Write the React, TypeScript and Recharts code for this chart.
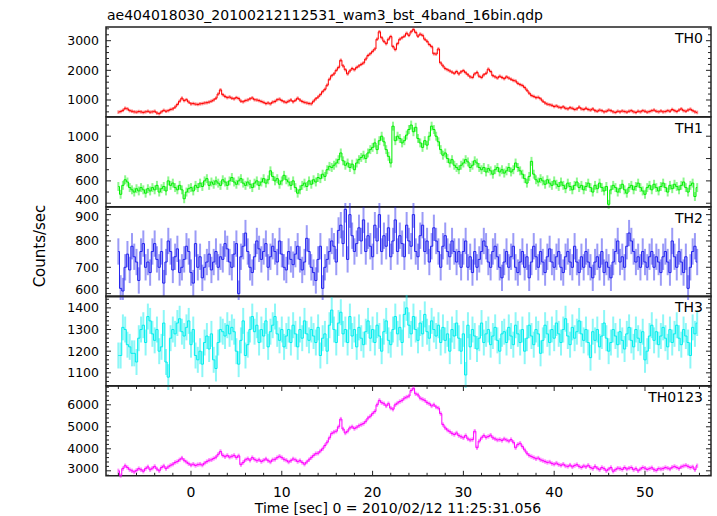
import { ComposedChart, Line, XAxis, YAxis, ErrorBar, ReferenceArea } from 'recharts'

const TITLE = 'ae404018030_20100212112531_wam3_bst_4band_16bin.qdp'
const X_LABEL = 'Time [sec] 0 = 2010/02/12 11:25:31.056'
const Y_LABEL = 'Counts/sec'

// 16 x 1/64 s bins
const T_START = -8
const BIN = 0.25

const th0 = [
  590, 610, 650, 720, 700, 640, 620, 600, 590, 610, 600, 580, 600, 620, 590, 600,
  620, 560, 540, 600, 650, 620, 640, 680, 700, 760, 850, 960, 1060, 980, 1010, 930,
  870, 880, 860, 850, 870, 880, 900, 910, 930, 960, 1000, 1060, 1200, 1340, 1180, 1120,
  1080, 1100, 1060, 1040, 1080, 1050, 960, 940, 980, 1000, 1040, 1070, 1010, 1000, 980, 950,
  920, 880, 900, 870, 930, 950, 1010, 1030, 980, 940, 920, 960, 1000, 940, 990, 1060,
  1000, 950, 920, 900, 880, 870, 960, 1040, 1100, 1180, 1280, 1360, 1500, 1700, 1820, 1880,
  2000, 2100, 2340, 2150, 2020, 1880, 1980, 2060, 2020, 2100, 2150, 2200, 2250, 2380, 2500, 2560,
  2640, 2720, 3050, 3300, 3100, 2980, 2900, 3050, 3140, 2800, 2700, 2900, 3050, 3100, 3150, 3250,
  3180, 3300, 3380, 3280, 3150, 3220, 3180, 3050, 2980, 2870, 2800, 2560, 2550, 2720, 2250, 2150,
  2060, 2020, 1980, 1940, 1900, 1960, 1880, 1950, 1990, 1920, 1850, 1780, 1760, 1880, 1930, 1800,
  1760, 1850, 1900, 2040, 1960, 1820, 1780, 1740, 1800, 1760, 1720, 1780, 1740, 1700, 1660, 1640,
  1560, 1520, 1490, 1420, 1330, 1230, 1150, 1120, 1080, 1090, 1040, 960, 900, 860, 840, 820,
  780, 800, 760, 740, 770, 720, 700, 740, 720, 680, 700, 760, 700, 680, 720, 680,
  660, 700, 640, 620, 660, 640, 600, 620, 660, 640, 600, 580, 620, 600, 630, 610,
  590, 620, 640, 600, 580, 620, 600, 640, 620, 590, 610, 640, 660, 620, 600, 630,
  600, 610, 640, 620, 680, 640, 610, 660, 700, 640, 620, 660, 690, 640, 600, 580,
]

const th1 = [
  550, 480, 560, 610, 590, 540, 520, 500, 530, 510, 540, 520, 490, 530, 510, 540,
  520, 560, 500, 530, 550, 510, 600, 560, 580, 540, 520, 560, 520, 440, 500, 530,
  540, 510, 560, 540, 580, 550, 600, 620, 560, 590, 570, 600, 580, 560, 610, 590,
  560, 600, 630, 590, 570, 600, 620, 580, 560, 590, 570, 540, 580, 600, 560, 590,
  620, 580, 610, 690, 640, 600, 620, 570, 600, 650, 610, 590, 560, 600, 540, 490,
  520, 560, 580, 550, 600, 570, 610, 590, 630, 620, 660, 640, 700, 730, 720, 740,
  760, 790, 850, 780, 740, 760, 720, 750, 700, 760, 790, 810, 830, 800, 850, 880,
  900, 940, 880, 960, 1000, 950, 880, 820, 760, 1090, 960, 1000, 980, 940, 960, 1010,
  1060, 1100, 1040, 1080, 980, 940, 900, 960, 920, 1000, 1090, 1060, 1000, 950, 880, 830,
  850, 800, 760, 790, 740, 720, 700, 740, 760, 790, 770, 720, 740, 780, 760, 720,
  700, 720, 680, 710, 690, 660, 700, 720, 680, 700, 670, 690, 720, 680, 700, 760,
  720, 690, 660, 620, 580, 640, 775, 660, 610, 590, 620, 600, 570, 610, 580, 560,
  600, 570, 550, 590, 560, 530, 580, 550, 520, 560, 590, 540, 560, 520, 550, 580,
  540, 500, 560, 530, 580, 540, 510, 550, 390, 520, 560, 540, 500, 530, 570, 520,
  490, 540, 560, 520, 550, 580, 540, 510, 480, 540, 560, 520, 570, 540, 510, 550,
  580, 540, 500, 560, 530, 570, 550, 520, 560, 590, 540, 500, 560, 580, 460, 540,
]

const th2 = [
  760, 620, 610, 700, 750, 690, 780, 740, 720, 650, 760, 790, 700, 720, 680, 760,
  790, 730, 700, 760, 640, 720, 800, 760, 690, 740, 770, 680, 700, 730, 780, 760,
  680, 640, 790, 700, 740, 660, 700, 720, 750, 690, 720, 760, 700, 740, 730, 790,
  770, 720, 700, 750, 790, 600, 740, 780, 830, 760, 700, 680, 740, 800, 770, 730,
  760, 790, 700, 740, 780, 760, 720, 800, 750, 700, 690, 760, 730, 710, 750, 780,
  730, 690, 720, 810, 760, 700, 680, 650, 730, 780, 620, 700, 730, 760, 800, 780,
  720, 840, 860, 790, 920, 730, 900, 820, 760, 790, 850, 800, 880, 760, 820, 780,
  740, 860, 800, 900, 760, 820, 780, 850, 740, 800, 880, 760, 820, 790, 740, 860,
  800, 780, 900, 760, 740, 820, 860, 760, 800, 720, 780, 850, 800, 760, 700, 780,
  820, 760, 740, 800, 760, 720, 760, 700, 760, 800, 700, 740, 680, 760, 700, 730,
  760, 800, 780, 720, 700, 760, 780, 740, 700, 660, 720, 760, 700, 740, 780, 700,
  680, 720, 760, 700, 740, 660, 720, 780, 740, 700, 760, 720, 680, 740, 770, 720,
  700, 740, 760, 700, 680, 740, 760, 720, 700, 780, 720, 680, 740, 700, 760, 720,
  700, 660, 720, 740, 700, 760, 680, 720, 700, 660, 720, 760, 800, 720, 740, 700,
  780, 830, 800, 760, 720, 740, 700, 760, 720, 700, 740, 760, 700, 740, 720, 680,
  740, 760, 720, 680, 800, 740, 700, 760, 720, 680, 740, 620, 700, 760, 780, 720,
]

const th3 = [
  1180, 1180, 1310, 1300, 1230, 1220, 1190, 1190, 1150, 1260, 1300, 1320, 1240, 1360, 1340, 1280,
  1250, 1300, 1200, 1220, 1330, 1150, 1080, 1260, 1300, 1280, 1330, 1350, 1290, 1270, 1310, 1340,
  1230, 1300, 1180, 1160, 1200, 1140, 1240, 1270, 1210, 1280, 1160, 1120, 1240, 1300, 1290, 1270,
  1320, 1280, 1310, 1290, 1200, 1140, 1250, 1340, 1180, 1230, 1300, 1360, 1290, 1320, 1240, 1300,
  1270, 1340, 1220, 1290, 1320, 1360, 1280, 1250, 1300, 1220, 1270, 1300, 1240, 1320, 1280, 1220,
  1300, 1260, 1340, 1280, 1250, 1300, 1270, 1240, 1310, 1180, 1260, 1280, 1200, 1320, 1390, 1300,
  1240, 1330, 1380, 1280, 1300, 1240, 1360, 1270, 1300, 1220, 1310, 1260, 1230, 1290, 1340, 1260,
  1300, 1240, 1320, 1270, 1200, 1290, 1340, 1250, 1230, 1300, 1360, 1280, 1310, 1240, 1370, 1400,
  1320, 1280, 1360, 1300, 1250, 1330, 1280, 1370, 1290, 1260, 1340, 1300, 1270, 1320, 1240, 1310,
  1250, 1280, 1200, 1300, 1270, 1330, 1260, 1200, 1280, 1090, 1320, 1220, 1300, 1270, 1210, 1260,
  1330, 1240, 1280, 1300, 1230, 1270, 1310, 1250, 1200, 1280, 1290, 1240, 1310, 1270, 1230, 1320,
  1280, 1240, 1300, 1200, 1260, 1320, 1270, 1230, 1300, 1280, 1190, 1250, 1320, 1280, 1240, 1300,
  1260, 1330, 1280, 1240, 1300, 1350, 1270, 1230, 1310, 1260, 1290, 1340, 1280, 1250, 1300, 1240,
  1170, 1290, 1250, 1300, 1220, 1270, 1330, 1260, 1200, 1240, 1300, 1270, 1230, 1290, 1250, 1210,
  1280, 1310, 1250, 1220, 1300, 1260, 1240, 1290, 1160, 1200, 1270, 1320, 1250, 1290, 1230, 1270,
  1310, 1260, 1220, 1300, 1240, 1280, 1320, 1260, 1230, 1300, 1270, 1240, 1180, 1310, 1280, 1330,
]

const th0123 = [
  3000, 2780, 3100, 3230, 3150, 3050, 3000, 2950, 3020, 3100, 3050, 2980, 3100, 3180, 3050, 3120,
  3200, 3080, 3000, 3150, 3220, 3100, 3180, 3250, 3300, 3380, 3420, 3500, 3580, 3480, 3400, 3320,
  3260, 3300, 3240, 3280, 3300, 3260, 3350, 3420, 3480, 3500, 3560, 3620, 3750, 3880, 3700, 3640,
  3700, 3620, 3660, 3700, 3600, 3680, 3280, 3380, 3500, 3550, 3480, 3600, 3520, 3460, 3500, 3420,
  3480, 3540, 3460, 3400, 3500, 3520, 3600, 3660, 3600, 3520, 3480, 3400, 3460, 3540, 3500, 3420,
  3460, 3380, 3300, 3400, 3500, 3600, 3700, 3780, 3800, 3900, 4000, 4150, 4300, 4500, 4700, 4760,
  4800, 5000, 5350, 4900, 4720, 4800, 4950, 5000, 4920, 4980, 5050, 5100, 5150, 5250, 5400, 5480,
  5600, 5700, 6000, 6200, 6100, 6050, 5950, 6050, 5850, 5800, 6000, 6080, 6150, 6200, 6300, 6350,
  6400, 6650, 6750, 6500, 6450, 6300, 6250, 6200, 6100, 6050, 5950, 6000, 5900, 5850, 5600, 5100,
  4950, 4850, 4780, 4700, 4650, 4720, 4600, 4550, 4500, 4600, 4450, 4400, 4420, 4800, 4050, 4350,
  4500, 4600, 4520, 4560, 4620, 4500, 4450, 4400, 4420, 4380, 4450, 4400, 4350, 4420, 4300, 4050,
  4200, 4250, 4100, 3950, 3800, 3700, 3650, 3600, 3550, 3580, 3500, 3460, 3420, 3380, 3400, 3330,
  3300, 3350, 3280, 3250, 3300, 3220, 3200, 3260, 3180, 3240, 3280, 3200, 3150, 3220, 3180, 3250,
  3150, 3100, 3200, 3120, 3050, 3150, 3100, 3000, 3080, 3150, 2980, 3050, 3120, 3100, 3060, 3150,
  3080, 3120, 3150, 3050, 3100, 3000, 3080, 3150, 3120, 3060, 3100, 3140, 3050, 3020, 3100, 3080,
  3100, 3150, 3120, 3080, 3160, 3200, 3150, 3100, 3180, 3220, 3250, 3200, 3150, 3180, 3050, 3230,
]

const X_MAJOR = [0, 10, 20, 30, 40, 50]
const X_MINOR = 2

const W = 717
const H = 516
const PLOT_LEFT = 106
const PLOT_RIGHT = 711
const PLOT_TOP = 27
const PANEL_H = 89.8
const PAD = 4
const AXIS_H = 40
const FRAME = '#222'
const FONT = '"DejaVu Sans", sans-serif'
const X_DOMAIN = [-9.36, 57.27]

const steps = (lo: number, hi: number, st: number) => {
  const out: number[] = []
  for (let v = lo; v <= hi + 1e-9; v += st) out.push(Math.round(v * 100) / 100)
  return out
}
const X_TICKS = steps(-8, 56, X_MINOR)

const PANELS = [
  { name: 'TH0', values: th0, err: 60, color: '#ff0000', domain: [433, 3462], major: [1000, 2000, 3000], minor: 200, first: 600 },
  { name: 'TH1', values: th1, err: 40, color: '#00ee00', domain: [368, 1172], major: [400, 600, 800, 1000], minor: 100, first: 400 },
  { name: 'TH2', values: th2, err: 50, color: '#2222ee', domain: [588, 929], major: [600, 700, 800, 900], minor: 20, first: 600 },
  { name: 'TH3', values: th3, err: 60, color: '#00eeee', domain: [1040, 1455], major: [1100, 1200, 1300, 1400], minor: 20, first: 1060 },
  { name: 'TH0123', values: th0123, err: 100, color: '#ff00ff', domain: [2773, 6855], major: [3000, 4000, 5000, 6000], minor: 200, first: 2800 },
]

function XTick(props: any) {
  const { x, payload, showLabel } = props
  const v = payload.value
  const major = X_MAJOR.includes(v)
  const len = major ? 5 : 3
  const bottom = PAD + PANEL_H
  return (
    <g>
      <line x1={x} x2={x} y1={bottom} y2={bottom - len} stroke={FRAME} />
      <line x1={x} x2={x} y1={PAD} y2={PAD + len} stroke={FRAME} />
      {showLabel && major && (
        <text x={x} y={bottom + 21} textAnchor="middle" fontFamily={FONT} fontSize={14} fill="#000">
          {v}
        </text>
      )}
    </g>
  )
}

function YTick(props: any) {
  const { y, payload, major } = props
  const v = payload.value
  const isMajor = major.includes(v)
  const len = isMajor ? 5 : 3
  // keep labels inside their own panel so neighbours don't collide
  const base = Math.min(Math.max(y + 4.5, PAD + 14), PAD + PANEL_H - 3)
  return (
    <g>
      <line x1={PLOT_LEFT} x2={PLOT_LEFT + len} y1={y} y2={y} stroke={FRAME} />
      <line x1={PLOT_RIGHT - len} x2={PLOT_RIGHT} y1={y} y2={y} stroke={FRAME} />
      {isMajor && (
        <text x={99} y={base} textAnchor="end" fontFamily={FONT} fontSize={12.5} fill="#000">
          {v}
        </text>
      )}
    </g>
  )
}

function Panel({ p, idx }: { p: any; idx: number }) {
  const last = idx === PANELS.length - 1
  const rows = p.values.map((v: number, i: number) => ({ t: T_START + i * BIN, v, e: p.err }))
  const yTicks = steps(p.first, p.domain[1], p.minor)
  return (
    <div style={{ position: 'absolute', left: 0, top: PLOT_TOP + idx * PANEL_H - PAD }}>
      <ComposedChart
        width={W}
        height={PANEL_H + 2 * PAD + (last ? AXIS_H : 0)}
        data={rows}
        margin={{ top: PAD, right: W - PLOT_RIGHT, bottom: PAD, left: 0 }}
      >
        <XAxis
          type="number"
          dataKey="t"
          domain={X_DOMAIN}
          allowDataOverflow
          ticks={X_TICKS}
          interval={0}
          tickSize={0}
          tickLine={false}
          axisLine={false}
          height={last ? AXIS_H : 0}
          tick={(tp: any) => <XTick {...tp} showLabel={last} />}
        />
        <YAxis
          type="number"
          domain={p.domain}
          allowDataOverflow
          ticks={yTicks}
          interval={0}
          tickSize={0}
          tickLine={false}
          axisLine={false}
          width={PLOT_LEFT}
          tick={(tp: any) => <YTick {...tp} major={p.major} />}
        />
        <Line
          type="step"
          dataKey="v"
          stroke={p.color}
          strokeWidth={1}
          dot={false}
          activeDot={false}
          isAnimationActive={false}
        >
          <ErrorBar dataKey="e" direction="y" width={0} stroke={p.color} strokeWidth={2} strokeOpacity={0.45} isAnimationActive={false} />
        </Line>
        <ReferenceArea
          x1={X_DOMAIN[0]}
          x2={X_DOMAIN[1]}
          y1={p.domain[0]}
          y2={p.domain[1]}
          fill="none"
          stroke={FRAME}
          strokeWidth={1.5}
          ifOverflow="visible"
        />
      </ComposedChart>
    </div>
  )
}

export default function App() {
  return (
    <div style={{ position: 'fixed', left: 0, top: 0, width: W, height: H, background: '#fff' }}>
      {PANELS.map((p, i) => (
        <Panel key={p.name} p={p} idx={i} />
      ))}
      <svg width={W} height={H} style={{ position: 'absolute', left: 0, top: 0, pointerEvents: 'none' }}>
        <text x={107} y={20} fontFamily={FONT} fontSize={14} fill="#000">
          {TITLE}
        </text>
        {PANELS.map((p, i) => (
          <text key={p.name} x={703} y={PLOT_TOP + i * PANEL_H + 16} textAnchor="end" fontFamily={FONT} fontSize={14} fill="#000">
            {p.name}
          </text>
        ))}
        <text x={398} y={513} textAnchor="middle" fontFamily={FONT} fontSize={14} fill="#000">
          {X_LABEL}
        </text>
        <text transform="translate(45 246) rotate(-90)" textAnchor="middle" fontFamily={FONT} fontSize={15} fill="#000">
          {Y_LABEL}
        </text>
      </svg>
    </div>
  )
}
